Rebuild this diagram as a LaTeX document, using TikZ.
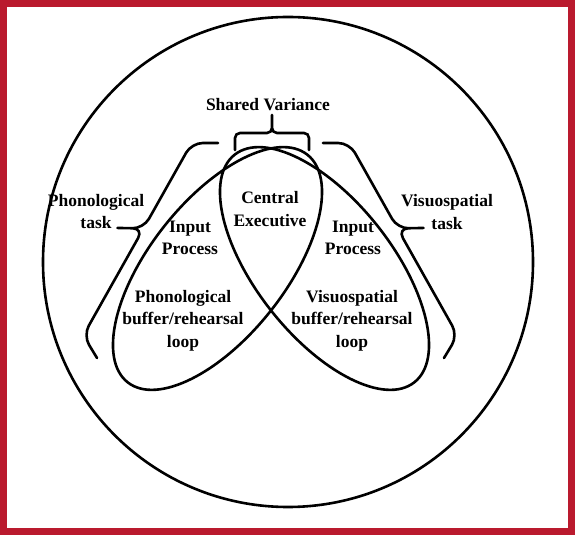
\documentclass[tikz,border=0pt]{standalone}
\usepackage{fontspec}
\setmainfont{Liberation Serif}
\usetikzlibrary{shapes.geometric,calc}
\definecolor{framered}{RGB}{186,26,46}
\tikzset{
    %Define style for the circle and the two loops
    oval/.style={
           ellipse,
           draw=black, line width=2.6pt,
           inner sep=0pt},
    %Define style for the labels
    annot/.style={
           font=\fontsize{17.5}{22.5}\selectfont\bfseries,
           align=center},
    % Define style for the brace lines
    bracket/.style={
           draw=black, line width=2.6pt,
           line cap=round,
           rounded corners=#1},
    % Define brace path: {inset of the ends}{arm height}{tip height}{where the arms meet}
    curly/.style n args={4}{
           to path={
             (\tikztostart)
               -- ($(\tikztostart)!#1!(\tikztotarget)!#2!90:(\tikztotarget)$)
               -- ($(\tikztostart)!#4!(\tikztotarget)!#2!90:(\tikztotarget)$)
               -- ($(\tikztostart)!0.5!(\tikztotarget)!#3!90:(\tikztotarget)$)
             (\tikztotarget)
               -- ($(\tikztotarget)!#1!(\tikztostart)!#2!-90:(\tikztostart)$)
               -- ($(\tikztostart)!#4!(\tikztotarget)!#2!90:(\tikztotarget)$)
               -- ($(\tikztostart)!0.5!(\tikztotarget)!#3!90:(\tikztotarget)$)}}
}
\begin{document}
\begin{tikzpicture}[x=1pt,y=1pt]
  % frame
  \fill[framered] (0,0) rectangle (575,535);
  \fill[white] (7,7) rectangle (568,528);
  \node[oval, minimum width=490pt, minimum height=490pt] (memory) at (288,273) {};
  \node[oval, rotate=51.7, minimum width=290pt, minimum height=136pt] (phonloop) at (217.5,266.5) {};
  \node[oval, rotate=-51.7, minimum width=290pt, minimum height=136pt] (visloop) at (324.5,266.5) {};
  % braces
  \coordinate (sv-l) at (235,385);
  \coordinate (sv-r) at (309,385);
  \coordinate (pt-lo) at (97,177);
  \coordinate (pt-hi) at (218,392);
  \coordinate (vt-hi) at (323,392);
  \coordinate (vt-lo) at (444,177);
  \path[bracket=5pt] (sv-l) to[curly={0pt}{17pt}{35pt}{0.5}] (sv-r);
  \path[bracket=11pt] (pt-lo) to[curly={13pt}{23pt}{46pt}{0.55}] (pt-hi);
  \path[bracket=11pt] (vt-hi) to[curly={13pt}{23pt}{46pt}{0.45}] (vt-lo);
  % labels
  \node[annot] (shared) at (268,430) {Shared Variance};
  \node[annot] (phontask) at (96,323.5) {Phonological\\task};
  \node[annot] (visstask) at (447,323) {Visuospatial\\task};
  \node[annot] (central) at (270,326) {Central\\Executive};
  \node[annot] (phoninput) at (190,297) {Input\\Process};
  \node[annot] (visinput) at (353,297) {Input\\Process};
  \node[annot] (phonbuf) at (183,214.5) {Phonological\\buffer/rehearsal\\loop};
  \node[annot] (visbuf) at (352,214.5) {Visuospatial\\buffer/rehearsal\\loop};
\end{tikzpicture}
\end{document}
